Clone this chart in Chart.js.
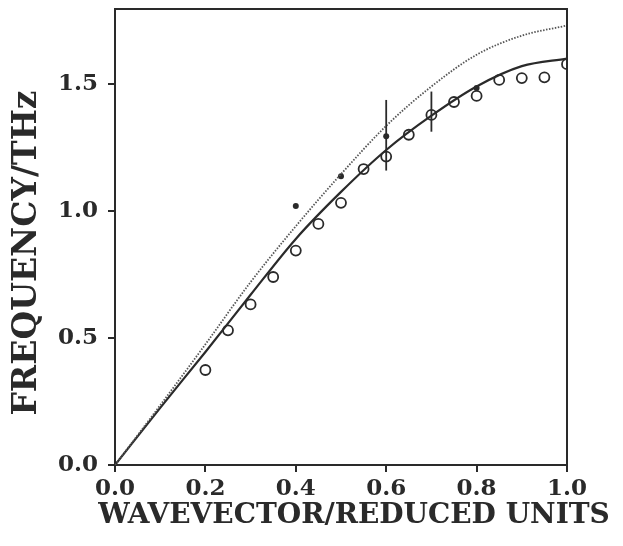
<!DOCTYPE html>
<html>
<head>
<meta charset="utf-8">
<script src="https://cdn.jsdelivr.net/npm/chart.js@4/dist/chart.umd.min.js"></script>
<style>
  html, body { margin: 0; padding: 0; background: #fff; }
  #wrap { width: 623px; height: 546px; }
</style>
</head>
<body>
<div id="wrap"><canvas id="dispersion"></canvas></div>
<script>
// model curves, sampled along the reduced wavevector
const waveVector = [0, 0.1, 0.2, 0.3, 0.4, 0.5, 0.6, 0.7, 0.8, 0.9, 1.0];
const solidFreq = [0, 0.225, 0.445, 0.67, 0.89, 1.075, 1.24, 1.375, 1.49, 1.57, 1.60];
const dottedFreq = [0, 0.235, 0.475, 0.72, 0.94, 1.145, 1.335, 1.49, 1.615, 1.69, 1.73];

// measured points (open circles)
const openQ = [0.2, 0.25, 0.3, 0.35, 0.4, 0.45, 0.5, 0.55, 0.6, 0.65, 0.7, 0.75, 0.8, 0.85, 0.9, 0.95, 1.0];
const openFreq = [0.374, 0.53, 0.632, 0.74, 0.844, 0.949, 1.032, 1.165, 1.214, 1.30, 1.378, 1.429, 1.453, 1.516, 1.523, 1.526, 1.578];

// second set (filled dots)
const filledQ = [0.4, 0.5, 0.6, 0.8];
const filledFreq = [1.02, 1.137, 1.294, 1.484];

// vertical error bars
const errQ = [0.6, 0.7];
const errLow = [1.159, 1.312];
const errHigh = [1.437, 1.47];

const xTicks = [0, 0.2, 0.4, 0.6, 0.8, 1.0];
const yTicks = [0, 0.5, 1.0, 1.5];

const xTitle = "WAVEVECTOR/REDUCED UNITS";
const yTitle = "FREQUENCY/THz";

const ink = "#2a2a2a";
const serif = "'DejaVu Serif', serif";

const pairs = (xs, ys) => xs.map((x, i) => ({ x, y: ys[i] }));

// box frame, error bars and the two axis titles
const frameAndErrors = {
  id: "frameAndErrors",
  afterDatasetsDraw(chart) {
    const { ctx, chartArea: a, scales: { x, y } } = chart;
    ctx.save();
    ctx.strokeStyle = ink;
    ctx.lineWidth = 2;
    ctx.beginPath();
    ctx.moveTo(a.left, a.top);
    ctx.lineTo(a.right, a.top);
    ctx.lineTo(a.right, a.bottom);
    ctx.stroke();

    ctx.lineWidth = 1.8;
    errQ.forEach((q, i) => {
      const px = x.getPixelForValue(q);
      ctx.beginPath();
      ctx.moveTo(px, y.getPixelForValue(errLow[i]));
      ctx.lineTo(px, y.getPixelForValue(errHigh[i]));
      ctx.stroke();
    });
    ctx.restore();
  },
  afterDraw(chart) {
    const { ctx, chartArea: a } = chart;
    ctx.save();
    ctx.fillStyle = ink;
    ctx.textAlign = "center";
    ctx.textBaseline = "middle";
    ctx.font = "bold 28px " + serif;
    ctx.fillText(xTitle, (a.left + a.right) / 2 + 13, a.bottom + 51);
    ctx.translate(27, (a.top + a.bottom) / 2 + 16);
    ctx.rotate(-Math.PI / 2);
    ctx.font = "bold 33px " + serif;
    ctx.fillText(yTitle, 0, 0);
    ctx.restore();
  },
};

new Chart(document.getElementById("dispersion"), {
  type: "scatter",
  data: {
    datasets: [
      {
        type: "line",
        data: pairs(waveVector, dottedFreq),
        borderColor: "#555",
        borderWidth: 1.8,
        borderDash: [1.5, 1.5],
        pointRadius: 0,
        cubicInterpolationMode: "monotone",
      },
      {
        type: "line",
        data: pairs(waveVector, solidFreq),
        borderColor: ink,
        borderWidth: 2.2,
        pointRadius: 0,
        cubicInterpolationMode: "monotone",
      },
      {
        data: pairs(openQ, openFreq),
        pointStyle: "circle",
        pointRadius: 5,
        pointBorderWidth: 1.8,
        pointBorderColor: ink,
        pointBackgroundColor: "rgba(0,0,0,0)",
      },
      {
        data: pairs(filledQ, filledFreq),
        pointRadius: 3,
        pointBorderWidth: 0,
        pointBackgroundColor: ink,
      },
    ],
  },
  options: {
    responsive: true,
    maintainAspectRatio: false,
    animation: false,
    events: [],
    layout: { padding: { left: 0, right: 56, top: 9, bottom: 0 } },
    plugins: { legend: { display: false }, tooltip: { enabled: false } },
    scales: {
      x: {
        type: "linear",
        min: 0,
        max: 1.0,
        afterFit: (s) => { s.height = 81; },
        afterBuildTicks: (s) => { s.ticks = xTicks.map((v) => ({ value: v })); },
        grid: { display: true, drawOnChartArea: false, drawTicks: true, tickLength: 7, color: ink, lineWidth: 2 },
        border: { display: true, color: ink, width: 2 },
        ticks: {
          color: ink,
          padding: 3,
          maxRotation: 0,
          font: { family: serif, size: 23, weight: "bold" },
          callback: (v) => Number(v).toFixed(1),
        },
      },
      y: {
        type: "linear",
        min: 0,
        max: 1.795,
        afterFit: (s) => {
          s.width = 115;
          s.paddingTop = 0;
          s.paddingBottom = 0;
        },
        afterBuildTicks: (s) => { s.ticks = yTicks.map((v) => ({ value: v })); },
        grid: { display: true, drawOnChartArea: false, drawTicks: true, tickLength: 7, color: ink, lineWidth: 2 },
        border: { display: true, color: ink, width: 2 },
        ticks: {
          color: ink,
          padding: 10,
          font: { family: serif, size: 23, weight: "bold" },
          callback: (v) => Number(v).toFixed(1),
        },
      },
    },
  },
  plugins: [frameAndErrors],
});
</script>
</body>
</html>
